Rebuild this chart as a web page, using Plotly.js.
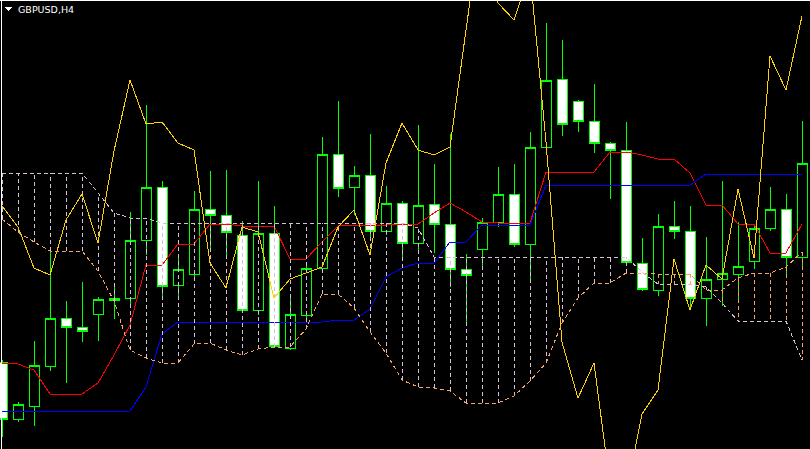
<!DOCTYPE html>
<html>
<head>
<meta charset="utf-8">
<script src="https://cdn.plot.ly/plotly-3.0.1.min.js"></script>
<style>
html,body{margin:0;padding:0;background:#000;}
#chart{width:810px;height:449px;}
#chart svg path{shape-rendering:crispEdges;}
</style>
</head>
<body>
<div id="chart"></div>
<script>
// bar index (H4 bars, left to right)
const bar = [0,1,2,3,4,5,6,7,8,9,10,11,12,13,14,15,16,17,18,19,20,21,22,23,24,25,26,27,28,29,30,31,32,33,34,35,36,37,38,39,40,41,42,43,44,45,46,47,48,49,50];

// GBPUSD H4 candles
const open  = [1.2538,1.2481,1.2494,1.2534,1.2582,1.2573,1.2586,1.2600,1.2602,1.2660,1.2713,1.2615,1.2626,1.2691,1.2685,1.2665,1.2590,1.2667,1.2552,1.2585,1.2632,1.2746,1.2713,1.2725,1.2669,1.2697,1.2657,1.2696,1.2676,1.2631,1.2651,1.2678,1.2706,1.2656,1.2753,1.2821,1.2799,1.2779,1.2757,1.2750,1.2637,1.2610,1.2674,1.2669,1.2602,1.2621,1.2626,1.2639,1.2672,1.2691,1.2643];
const high  = [1.2540,1.2498,1.2559,1.2648,1.2599,1.2618,1.2603,1.2617,1.2688,1.2795,1.2719,1.2645,1.2709,1.2729,1.2730,1.2679,1.2719,1.2694,1.2604,1.2635,1.2763,1.2799,1.2734,1.2766,1.2714,1.2699,1.2775,1.2736,1.2766,1.2646,1.2682,1.2733,1.2736,1.2768,1.2877,1.2860,1.2800,1.2816,1.2758,1.2778,1.2662,1.2686,1.2699,1.2694,1.2663,1.2719,1.2678,1.2676,1.2713,1.2706,1.2779];
const low   = [1.2463,1.2478,1.2474,1.2529,1.2517,1.2558,1.2559,1.2581,1.2595,1.2645,1.2603,1.2600,1.2620,1.2650,1.2645,1.2588,1.2585,1.2552,1.2550,1.2580,1.2630,1.2703,1.2685,1.2660,1.2665,1.2643,1.2650,1.2647,1.2613,1.2578,1.2633,1.2673,1.2653,1.2620,1.2750,1.2764,1.2768,1.2747,1.2701,1.2635,1.2609,1.2604,1.2661,1.2590,1.2574,1.2594,1.2600,1.2631,1.2669,1.2622,1.2631];
const close = [1.2481,1.2496,1.2535,1.2582,1.2573,1.2569,1.2601,1.2602,1.2660,1.2713,1.2614,1.2631,1.2691,1.2685,1.2668,1.2590,1.2667,1.2554,1.2586,1.2632,1.2746,1.2712,1.2725,1.2669,1.2697,1.2657,1.2695,1.2676,1.2631,1.2625,1.2678,1.2706,1.2656,1.2753,1.2820,1.2776,1.2779,1.2757,1.2750,1.2638,1.2611,1.2674,1.2669,1.2602,1.2621,1.2627,1.2634,1.2672,1.2691,1.2643,1.2737];

// Ichimoku Kinko Hyo
const tenkan = [1.2537,1.2536,1.2530,1.2506,1.2506,1.2506,1.2517,1.2545,1.2575,1.2635,1.2635,1.2656,1.2656,1.2676,1.2676,1.2674,1.2674,1.2674,1.2641,1.2641,1.2658,1.2674,1.2675,1.2675,1.2675,1.2676,1.2676,1.2687,1.2697,1.2688,1.2678,1.2677,1.2677,1.2677,1.2728,1.2728,1.2728,1.2728,1.2748,1.2748,1.2745,1.2741,1.2741,1.2727,1.2695,1.2695,1.2676,1.2676,1.2647,1.2647,1.2676];
const kijun  = [1.2489,1.2489,1.2489,1.2489,1.2489,1.2489,1.2489,1.2489,1.2489,1.2513,1.2566,1.2578,1.2578,1.2578,1.2578,1.2578,1.2578,1.2578,1.2578,1.2578,1.2578,1.2580,1.2580,1.2591,1.2623,1.2632,1.2637,1.2637,1.2658,1.2658,1.2675,1.2675,1.2675,1.2675,1.2715,1.2715,1.2715,1.2715,1.2715,1.2715,1.2715,1.2715,1.2715,1.2715,1.2726,1.2726,1.2726,1.2726,1.2726,1.2726,1.2726];
const spanA  = [1.2681,1.2668,1.2658,1.2649,1.2649,1.2649,1.2629,1.2599,1.2550,1.2542,1.2537,1.2537,1.2556,1.2557,1.2550,1.2545,1.2551,1.2553,1.2553,1.2571,1.2606,1.2606,1.2592,1.2568,1.2547,1.2520,1.2513,1.2512,1.2509,1.2497,1.2497,1.2497,1.2504,1.2519,1.2537,1.2577,1.2602,1.2617,1.2617,1.2627,1.2627,1.2626,1.2626,1.2626,1.2610,1.2610,1.2622,1.2627,1.2627,1.2633,1.2648];
const spanB  = [1.2727,1.2727,1.2727,1.2727,1.2727,1.2727,1.2707,1.2687,1.2682,1.2682,1.2677,1.2677,1.2677,1.2677,1.2677,1.2677,1.2677,1.2677,1.2677,1.2677,1.2677,1.2677,1.2677,1.2677,1.2677,1.2677,1.2672,1.2643,1.2643,1.2643,1.2643,1.2643,1.2643,1.2643,1.2643,1.2643,1.2643,1.2643,1.2643,1.2643,1.2628,1.2616,1.2616,1.2616,1.2613,1.2597,1.2579,1.2579,1.2579,1.2579,1.2540];
const chikou = [1.2694,1.2673,1.2632,1.2625,1.2680,1.2706,1.2657,1.2749,1.2820,1.2776,1.2778,1.2757,1.2750,1.2637,1.2612,1.2673,1.2668,1.2602,1.2621,1.2627,1.2633,1.2673,1.2690,1.2645,1.2737,1.2777,1.2750,1.2745,1.2753,1.2870,1.2985,1.2897,1.2880,1.2928,1.2758,1.2558,1.2502,1.2537,1.2415,1.2405,1.2486,1.2510,1.2641,1.2590,1.2635,1.2621,1.2711,1.2642,1.2844,1.2810,1.2884];

// Kumo histogram (vertical dotted bars between the spans)
const kumoBx = [], kumoBy = [], kumoAx = [], kumoAy = [];
for (let i = 0; i < bar.length; i++) {
  if (spanB[i] >= spanA[i]) { kumoBx.push(bar[i], bar[i], null); kumoBy.push(spanA[i], spanB[i], null); }
  else { kumoAx.push(bar[i], bar[i], null); kumoAy.push(spanA[i], spanB[i], null); }
}

const DOT = '4px,3px';
const traces = [
  {type:'candlestick', x:bar, open:open, high:high, low:low, close:close,
   increasing:{line:{color:'#00FF00', width:1}, fillcolor:'#000000'},
   decreasing:{line:{color:'#00FF00', width:1}, fillcolor:'#FFFFFF'},
   whiskerwidth:0, hoverinfo:'skip'},
  {type:'scatter', mode:'lines', x:bar, y:tenkan, line:{color:'#FF0000', width:1}, hoverinfo:'skip'},
  {type:'scatter', mode:'lines', x:bar, y:kijun, line:{color:'#0000FF', width:1}, hoverinfo:'skip'},
  {type:'scatter', mode:'lines', x:kumoAx, y:kumoAy, line:{color:'#F4A460', width:1, dash:DOT}, hoverinfo:'skip', connectgaps:false},
  {type:'scatter', mode:'lines', x:kumoBx, y:kumoBy, line:{color:'#D8BFD8', width:1, dash:DOT}, hoverinfo:'skip', connectgaps:false},
  {type:'scatter', mode:'lines', x:bar, y:chikou, line:{color:'#FFD200', width:1}, hoverinfo:'skip'},
  {type:'scatter', mode:'lines', x:bar, y:spanA, line:{color:'#F4A460', width:1, dash:DOT}, hoverinfo:'skip'},
  {type:'scatter', mode:'lines', x:bar, y:spanB, line:{color:'#D8BFD8', width:1, dash:DOT}, hoverinfo:'skip'}
];

const layout = {
  width:810, height:449,
  margin:{l:0, r:0, t:0, b:0, pad:0},
  paper_bgcolor:'#000000', plot_bgcolor:'#000000',
  showlegend:false,
  boxgap:0.375, boxgroupgap:0,
  xaxis:{range:[-0.125, 50.5], visible:false, showgrid:false, zeroline:false, rangeslider:{visible:false}, fixedrange:true},
  yaxis:{range:[1.2451, 1.2900], visible:false, showgrid:false, zeroline:false, fixedrange:true},
  shapes:[
    {type:'line', xref:'paper', yref:'paper', x0:0, x1:1, y0:0.9989, y1:0.9989, line:{color:'#FFFFFF', width:1}},
    {type:'line', xref:'paper', yref:'paper', x0:0.00185, x1:0.00185, y0:0, y1:1, line:{color:'#FFFFFF', width:1}},
    {type:'path', xref:'paper', yref:'paper', path:'M 0.0062 0.9844 L 0.0148 0.9844 L 0.0105 0.9755 Z', fillcolor:'#FFFFFF', line:{color:'#FFFFFF', width:0}}
  ],
  annotations:[
    {xref:'paper', yref:'paper', x:17/810, y:1-3/449, xanchor:'left', yanchor:'top', showarrow:false,
     text:'GBPUSD,H4', font:{family:'DejaVu Sans', size:9.5, color:'#FFFFFF'}, borderpad:0}
  ]
};

Plotly.newPlot('chart', traces, layout, {staticPlot:true, displayModeBar:false});
</script>
</body>
</html>
